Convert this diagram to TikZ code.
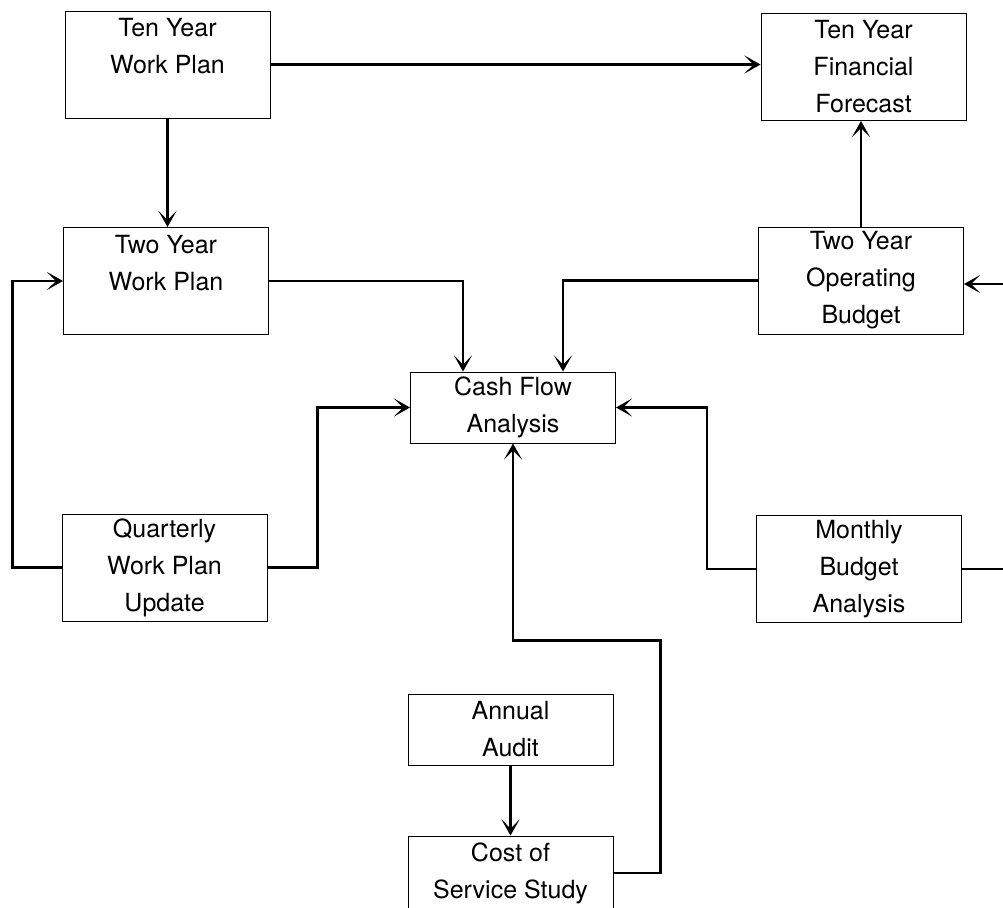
\documentclass[tikz,border=0pt]{standalone}
\usepackage{fontspec}
\setmainfont{TeX Gyre Heros}
\usetikzlibrary{calc, arrows.meta}

\tikzset{
  box/.style={draw, line width=0.5pt, minimum width=102.5pt, inner sep=0pt,
    align=center, font=\fontsize{12.5}{18.5}\selectfont},
  tallbox/.style={box, minimum height=53.5pt},
  shortbox/.style={box, minimum height=35.5pt},
  wire/.style={line width=1.4pt},
  flow/.style={wire, -{Stealth[length=8pt, width=9pt, inset=4.5pt]}}
}

\begin{document}
\begin{tikzpicture}[x=0.5pt, y=-0.5pt]
\useasboundingbox (0,0) rectangle (1003,907);

% boxes
\node[tallbox] (tenwork) at (167.5, 64.5) {Ten Year\\Work Plan\\\mbox{}};
\node[tallbox] (tenfin) at (863.5, 67) {Ten Year\\Financial\\Forecast};
\node[tallbox] (twowork) at (166, 281) {Two Year\\Work Plan\\\mbox{}};
\node[tallbox] (twoop) at (861, 280.5) {Two Year\\Operating\\Budget};
\node[shortbox] (cash) at (513, 407.5) {Cash Flow\\Analysis};
\node[tallbox] (quart) at (164.5, 567.5) {Quarterly\\Work Plan\\Update};
\node[tallbox] (monthly) at (859, 569) {Monthly\\Budget\\Analysis};
\node[shortbox] (annual) at (510.5, 729.5) {Annual\\Audit};
\node[shortbox, minimum height=37pt] (cost) at (510.5, 873) {Cost of\\Service Study};

% free ends at the right edge
\coordinate (rightin) at (1003, 284);
\coordinate (rightout) at (1003, 569);

% connectors
\draw[flow] (tenwork.east) -- (tenwork.east -| tenfin.west);
\draw[flow] (tenwork.south) -- (tenwork.south |- twowork.north);
\draw[flow] (twoop.north) -- (twoop.north |- tenfin.south);
\draw[flow] (rightin) -- (rightin -| twoop.east);
\draw[flow] (quart.west) -- ++(-49,0) |- (twowork.west);
\draw[flow] (twowork.east) -| ($(cash.north)+(-50,0)$);
\draw[flow] (twoop.west) -| ($(cash.north)+(50,0)$);
\draw[flow] (quart.east) -- ++(50,0) |- (cash.west);
\draw[flow] (monthly.west) -- ++(-49,0) |- (cash.east);
\draw[wire] (monthly.east) -- (rightout);
\draw[flow] (annual.south) -- (cost.north);
\draw[flow] 
    (cost.east) -- ++(47,0)  % out to the right
    |- ($(cash.south)+(0,197)$)  % back over
    -- (cash.south);

\end{tikzpicture}
\end{document}
